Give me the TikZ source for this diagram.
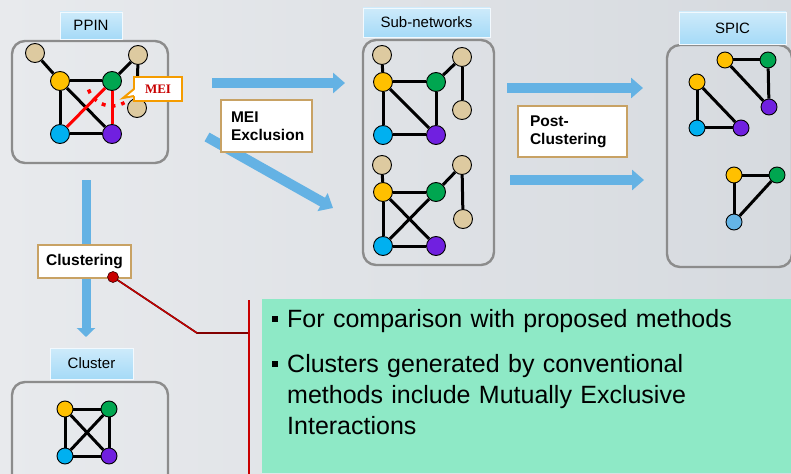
\documentclass[tikz,border=0pt]{standalone}
\usepackage{fontspec}
\setmainfont{Liberation Sans}
\newfontfamily\meifont{Liberation Serif}
\usetikzlibrary{arrows.meta}

\definecolor{bgleft}{RGB}{232,234,237}
\definecolor{bgright}{RGB}{214,218,223}
\definecolor{panelgray}{RGB}{140,140,140}
\definecolor{labelblue}{RGB}{165,218,247}
\definecolor{flowblue}{RGB}{100,178,228}
\definecolor{boxtan}{RGB}{200,162,100}
\definecolor{meiorange}{RGB}{245,156,0}
\definecolor{meired}{RGB}{200,0,0}
\definecolor{ptan}{RGB}{221,202,160}
\definecolor{pyellow}{RGB}{255,192,0}
\definecolor{pgreen}{RGB}{0,166,80}
\definecolor{pblue}{RGB}{0,176,240}
\definecolor{ppurple}{RGB}{112,32,224}
\definecolor{plblue}{RGB}{100,180,230}
\definecolor{notegreen}{RGB}{142,233,198}

\tikzset{
  prot/.style={circle,draw=black,line width=0.9pt,minimum size=19pt,inner sep=0pt},
  smallprot/.style={prot,minimum size=16pt},
  link/.style={black,line width=3pt},
  meilink/.style={red,line width=3pt},
  panel/.style={draw=panelgray,line width=2.4pt,rounded corners=13pt},
  tag/.style={top color=labelblue!55!white,bottom color=labelblue,draw=white!85!labelblue,
    line width=0.6pt,inner sep=0pt,font=\fontsize{15}{18}\selectfont},
  stepnote/.style={fill=white,draw=boxtan,line width=1.8pt,inner sep=0pt,
    font=\fontsize{15.5}{18}\selectfont\bfseries},
  flow/.style={draw=flowblue,line width=10pt,-{Triangle[width=20pt,length=12pt]}},
}
\newcommand{\notebullet}{\makebox[15pt][l]{\rule[5pt]{6pt}{6pt}}}

\begin{document}
\begin{tikzpicture}[x=1pt,y=-1pt]
   \clip (0,0) rectangle (791,473);
   \shade[left color=bgleft,right color=bgright] (0,0) rectangle (791,473);

   % panels and their titles
   \draw[panel] (12,41) rectangle (168,163);
   \draw[panel] (363,40) rectangle (494,265);
   \draw[panel] (667,45) rectangle (792,267);
   \draw[panel] (12,382) rectangle (168,490);
   \node[tag,minimum width=62pt,minimum height=27pt] (ppin) at (91,25.5) {PPIN};
   \node[tag,minimum width=127pt,minimum height=29pt] (subnet) at (426.5,22.5) {Sub-networks};
   \node[tag,minimum width=107pt,minimum height=32pt] (spic) at (732.5,28) {SPIC};
   \node[tag,minimum width=83pt,minimum height=31pt] (cluster) at (91.5,363.5) {Cluster};

   % PPIN
   \node[prot,fill=ptan] (ptan) at (35,53) {};
   \node[prot,fill=pyellow] (pyel) at (60,81) {};
   \node[prot,fill=pgreen] (pgrn) at (112,81) {};
   \node[prot,fill=ptan] (ptantwo) at (138,55) {};
   \node[prot,fill=ptan] (ptanthree) at (137,108) {};
   \node[prot,fill=pblue] (pblu) at (60,134) {};
   \node[prot,fill=ppurple] (ppur) at (112,134) {};
   \draw[link] (ptan)--(pyel);
   \draw[link] (pyel)--(pgrn);
   \draw[link] (pyel)--(pblu);
   \draw[link] (pyel)--(ppur);
   \draw[link] (pblu)--(ppur);
   \draw[link] (pgrn)--(ptantwo);
   \draw[link] (ptantwo)--(ptanthree);
   \draw[meilink] (pblu)--(pgrn);
   \draw[meilink] (pgrn)--(ppur);
   \draw[red,line width=3.5pt,dash pattern=on 4pt off 6pt] (pgrn.center) ++(200:25pt) arc[start angle=200,end angle=300,radius=25pt];
   \node[fill=white,draw=meiorange,line width=2pt,minimum width=48pt,minimum height=24pt,inner sep=0pt,
     text=meired,font=\meifont\fontsize{13}{15}\selectfont\bfseries] (mei) at (158,89) {MEI};
   \fill[white] (135.5,89) -- (123,98) -- (135.5,96) -- cycle;
   \draw[meiorange,line width=2pt] (134,89)--(123,98)--(134,96);

   % Sub-networks, upper
   \node[prot,fill=ptan] (stan) at (382,55) {};
   \node[prot,fill=pyellow] (syel) at (383,82) {};
   \node[prot,fill=pgreen] (sgrn) at (436,82) {};
   \node[prot,fill=ptan] (stantwo) at (462,57) {};
   \node[prot,fill=ptan] (stanthree) at (462,110) {};
   \node[prot,fill=pblue] (sblu) at (383,135) {};
   \node[prot,fill=ppurple] (spur) at (436,135) {};
   \draw[link] (stan)--(syel);
   \draw[link] (syel)--(sgrn);
   \draw[link] (syel)--(sblu);
   \draw[link] (syel)--(spur);
   \draw[link] (sblu)--(spur);
   \draw[link] (sgrn)--(spur);
   \draw[link] (sgrn)--(stantwo);
   \draw[link] (stantwo)--(stanthree);

   % Sub-networks, lower
   \node[prot,fill=ptan] (utan) at (382,165) {};
   \node[prot,fill=pyellow] (uyel) at (383,192) {};
   \node[prot,fill=pgreen] (ugrn) at (436,192) {};
   \node[prot,fill=ptan] (utantwo) at (462,165) {};
   \node[prot,fill=ptan] (utanthree) at (463,219) {};
   \node[prot,fill=pblue] (ublu) at (383,246) {};
   \node[prot,fill=ppurple] (upur) at (436,246) {};
   \draw[link] (utan)--(uyel);
   \draw[link] (uyel)--(ugrn);
   \draw[link] (uyel)--(ublu);
   \draw[link] (uyel)--(upur);
   \draw[link] (ublu)--(ugrn);
   \draw[link] (ublu)--(upur);
   \draw[link] (ugrn)--(utantwo);
   \draw[link] (utantwo)--(utanthree);

   % SPIC
   \node[smallprot,fill=pyellow] (kayel) at (725,60) {};
   \node[smallprot,fill=pgreen] (kagrn) at (768,60) {};
   \node[smallprot,fill=ppurple] (kapur) at (769,107) {};
   \draw[link] (kayel)--(kagrn);
   \draw[link] (kagrn)--(kapur);
   \draw[link] (kayel)--(kapur);
   \node[smallprot,fill=pyellow] (kbyel) at (697,82) {};
   \node[smallprot,fill=pblue] (kbblu) at (697,128) {};
   \node[smallprot,fill=ppurple] (kbpur) at (741,128) {};
   \draw[link] (kbyel)--(kbblu);
   \draw[link] (kbblu)--(kbpur);
   \draw[link] (kbyel)--(kbpur);
   \node[smallprot,fill=pyellow] (kcyel) at (734,175) {};
   \node[smallprot,fill=pgreen] (kcgrn) at (777,175) {};
   \node[smallprot,fill=plblue] (kcblu) at (734,222) {};
   \draw[link] (kcyel)--(kcgrn);
   \draw[link] (kcyel)--(kcblu);
   \draw[link] (kcgrn)--(kcblu);

   % Cluster
   \node[smallprot,fill=pyellow] (cyel) at (65,409) {};
   \node[smallprot,fill=pgreen] (cgrn) at (109,409) {};
   \node[smallprot,fill=pblue] (cblu) at (65,456) {};
   \node[smallprot,fill=ppurple] (cpur) at (109,456) {};
   \draw[link] (cyel)--(cgrn);
   \draw[link] (cyel)--(cblu);
   \draw[link] (cyel)--(cpur);
   \draw[link] (cgrn)--(cblu);
   \draw[link] (cgrn)--(cpur);
   \draw[link] (cblu)--(cpur);

   % flow arrows
   \coordinate (exclstart) at (212,83);
   \coordinate (exclend) at (345,83);
   \coordinate (diagstart) at (207,137);
   \coordinate (diagend) at (333,208);
   \coordinate (postastart) at (507,88);
   \coordinate (postaend) at (643,88);
   \coordinate (postbstart) at (510,180);
   \coordinate (postbend) at (644,180);
   \coordinate (clusstart) at (86,180);
   \coordinate (clusend) at (86,337);
   \draw[flow] (exclstart)--(exclend);
   \draw[flow] (diagstart)--(diagend);
   \draw[flow] (postastart)--(postaend);
   \draw[flow] (postbstart)--(postbend);
   \draw[flow,line width=9pt,-{Triangle[width=18pt,length=9pt]}] (clusstart)--(clusend);

   % step labels
   \node[stepnote,minimum width=91pt,minimum height=52pt,text width=71pt,align=left] (excl) at (266.5,126) {MEI\\Exclusion};
   \node[stepnote,minimum width=109pt,minimum height=51pt,text width=85pt,align=left] (post) at (572.5,131.5) {Post-\\Clustering};
   \node[stepnote,minimum width=93pt,minimum height=33pt] (clus) at (84.5,261.5) {Clustering};

   % callout to the notes
   \coordinate (dot) at (113,277);
   \coordinate (bend) at (197,333);
   \coordinate (foot) at (249,333);
   \coordinate (bartop) at (249,300);
   \coordinate (barbot) at (249,480);
   \draw[black,line width=1.6pt,shift={(1.3,1.3)}] (dot)--(bend)--(foot);
   \draw[black,line width=1.6pt,shift={(1.5,0)}] (bartop)--(barbot);
   \draw[meired,line width=1.4pt] (dot)--(bend)--(foot);
   \draw[meired,line width=1.4pt] (bartop)--(barbot);
   \fill[meired,draw=black!70!meired,line width=0.6pt] (dot) circle[radius=5.5pt];

   % notes
   \fill[notegreen] (262,299) rectangle (791,473);
   \node[anchor=base west,inner sep=0pt,text width=500pt,align=left,
     font=\fontsize{25}{31}\selectfont] (notes) at (272,327) {%
     \notebullet For comparison with proposed methods\\[14pt]
     \notebullet Clusters generated by conventional\\
     \hspace*{15pt}methods include Mutually Exclusive\\
     \hspace*{15pt}Interactions};
\end{tikzpicture}
\end{document}
